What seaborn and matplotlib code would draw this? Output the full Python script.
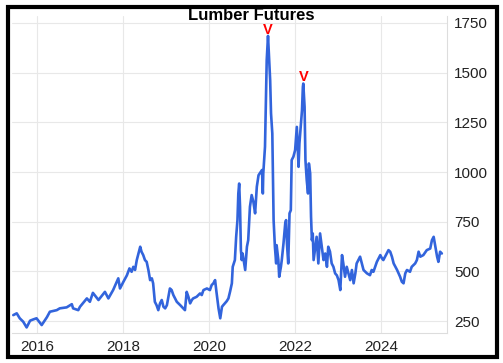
import pandas as pd
import seaborn as sns
import matplotlib.pyplot as plt
from matplotlib.patches import Rectangle

# weekly-ish samples (decimal year, price)
years = [
    2015.45, 2015.53, 2015.60, 2015.68, 2015.76, 2015.84, 2015.91, 2015.99,
    2016.11, 2016.23, 2016.30, 2016.46, 2016.53, 2016.69, 2016.81, 2016.84,
    2016.96, 2017.00, 2017.16, 2017.23, 2017.30, 2017.43, 2017.58, 2017.66,
    2017.77, 2017.89, 2017.93, 2018.01, 2018.09, 2018.15, 2018.20, 2018.24,
    2018.28, 2018.32, 2018.36, 2018.40, 2018.43, 2018.47, 2018.51, 2018.55,
    2018.59, 2018.63, 2018.67, 2018.70, 2018.74, 2018.78, 2018.82, 2018.86,
    2018.90, 2018.94, 2018.98, 2019.02, 2019.09, 2019.13, 2019.17, 2019.25,
    2019.33, 2019.40, 2019.44, 2019.48, 2019.52, 2019.56, 2019.60, 2019.63,
    2019.71, 2019.79, 2019.83, 2019.87, 2019.95, 2020.02, 2020.06, 2020.10,
    2020.14, 2020.17, 2020.22, 2020.26, 2020.30, 2020.33, 2020.41, 2020.45,
    2020.49, 2020.53, 2020.55, 2020.60, 2020.63, 2020.66, 2020.68, 2020.70,
    2020.72, 2020.74, 2020.76, 2020.78, 2020.84, 2020.88, 2020.91, 2020.95,
    2020.99, 2021.03, 2021.07, 2021.11, 2021.15, 2021.23, 2021.25, 2021.26,
    2021.30, 2021.34, 2021.37, 2021.40, 2021.42, 2021.44, 2021.47, 2021.50,
    2021.53, 2021.56, 2021.57, 2021.61, 2021.63, 2021.67, 2021.69, 2021.73,
    2021.77, 2021.79, 2021.81, 2021.84, 2021.87, 2021.90, 2021.92, 2021.96,
    2022.00, 2022.04, 2022.08, 2022.10, 2022.13, 2022.16, 2022.18, 2022.19,
    2022.22, 2022.24, 2022.27, 2022.30, 2022.32, 2022.35, 2022.37, 2022.39,
    2022.41, 2022.43, 2022.47, 2022.50, 2022.54, 2022.58, 2022.62, 2022.66,
    2022.70, 2022.74, 2022.77, 2022.81, 2022.85, 2022.89, 2022.93, 2022.97,
    2023.01, 2023.05, 2023.09, 2023.12, 2023.16, 2023.20, 2023.24, 2023.28,
    2023.32, 2023.36, 2023.40, 2023.43, 2023.51, 2023.55, 2023.59, 2023.67,
    2023.74, 2023.78, 2023.82, 2023.90, 2023.98, 2024.02, 2024.05, 2024.13,
    2024.17, 2024.21, 2024.25, 2024.29, 2024.37, 2024.44, 2024.48, 2024.52,
    2024.56, 2024.60, 2024.67, 2024.71, 2024.79, 2024.83, 2024.87, 2024.91,
    2024.98, 2025.06, 2025.14, 2025.18, 2025.22, 2025.26, 2025.30, 2025.33,
    2025.37, 2025.41,
]
prices = [
    280, 289, 264, 247, 218, 252, 258, 264,
    230, 269, 297, 305, 314, 319, 335, 314,
    305, 322, 364, 347, 392, 356, 397, 364,
    406, 465, 414, 448, 480, 515, 498, 523,
    507, 557, 590, 624, 599, 582, 557, 548,
    507, 456, 465, 440, 347, 330, 305, 339,
    356, 322, 314, 330, 414, 406, 381, 347,
    330, 314, 305, 397, 372, 339, 356, 364,
    372, 389, 381, 406, 414, 406, 431, 440,
    456, 400, 314, 264, 322, 330, 350, 364,
    400, 440, 523, 557, 674, 758, 892, 942,
    825, 607, 557, 590, 507, 624, 657, 825,
    884, 850, 792, 926, 984, 1010, 892, 993,
    1127, 1563, 1685, 1546, 1462, 1295, 1194, 758,
    624, 540, 632, 557, 473, 523, 557, 641,
    741, 758, 641, 540, 792, 808, 1060, 1077,
    1110, 1227, 1026, 1144, 1227, 1311, 1428, 1445,
    1328, 1060, 959, 892, 1043, 993, 775, 657,
    691, 557, 624, 674, 540, 691, 624, 557,
    590, 523, 624, 600, 540, 523, 490, 480,
    456, 406, 582, 540, 473, 523, 490, 456,
    507, 440, 490, 540, 574, 540, 507, 490,
    481, 507, 498, 548, 582, 565, 557, 590,
    607, 599, 574, 540, 507, 473, 448, 440,
    490, 507, 498, 523, 540, 557, 599, 574,
    582, 607, 615, 657, 674, 624, 574, 548,
    599, 590,
]
peak_years = [2021.37, 2022.19]
peak_prices = [1685, 1445]

x_ticks = [2016, 2018, 2020, 2022, 2024]
y_ticks = [250, 500, 750, 1000, 1250, 1500, 1750]

df = pd.DataFrame({"Year": years, "Price": prices})

sns.set_style("whitegrid")
plt.rcParams['font.family'] = ['Liberation Sans', 'DejaVu Sans']

fig = plt.figure(figsize=(5.03, 3.63), dpi=100)
ax = fig.add_axes([12 / 503, 1 - 333 / 363, 435 / 503, 317 / 363])

sns.lineplot(data=df, x="Year", y="Price", ax=ax, color="#3264dc", linewidth=1.9)

ax.set_xlim(2015.42, 2025.53)
ax.set_ylim(190, 1785)
ax.set_xticks(x_ticks)
ax.set_yticks(y_ticks)
ax.set_xticklabels([str(t) for t in x_ticks])
ax.yaxis.tick_right()
ax.tick_params(axis="both", length=0, labelsize=11, colors="#222222", pad=5)
ax.set_xlabel("")
ax.set_ylabel("")
ax.grid(color="#e8e8e8", linewidth=0.8)
for side in ["top", "left"]:
    ax.spines[side].set_visible(False)
for side in ["bottom", "right"]:
    ax.spines[side].set_color("#dddddd")
    ax.spines[side].set_linewidth(0.8)

for px, py in zip(peak_years, peak_prices):
    ax.annotate("V", (px, py), xytext=(0, 1.5), textcoords="offset points",
                ha="center", va="baseline", color="red", fontsize=10.5,
                fontweight="bold")

fig.text(0.5, 1 - 16 / 363, "Lumber Futures", ha="center", va="center",
         fontsize=12, fontweight="bold", color="black")

fig.patches.append(Rectangle((7.5 / 503, 6.5 / 363), 489 / 503, 350 / 363,
                             transform=fig.transFigure, fill=False,
                             edgecolor="black", linewidth=3))

fig.savefig("out.png", dpi=100)
